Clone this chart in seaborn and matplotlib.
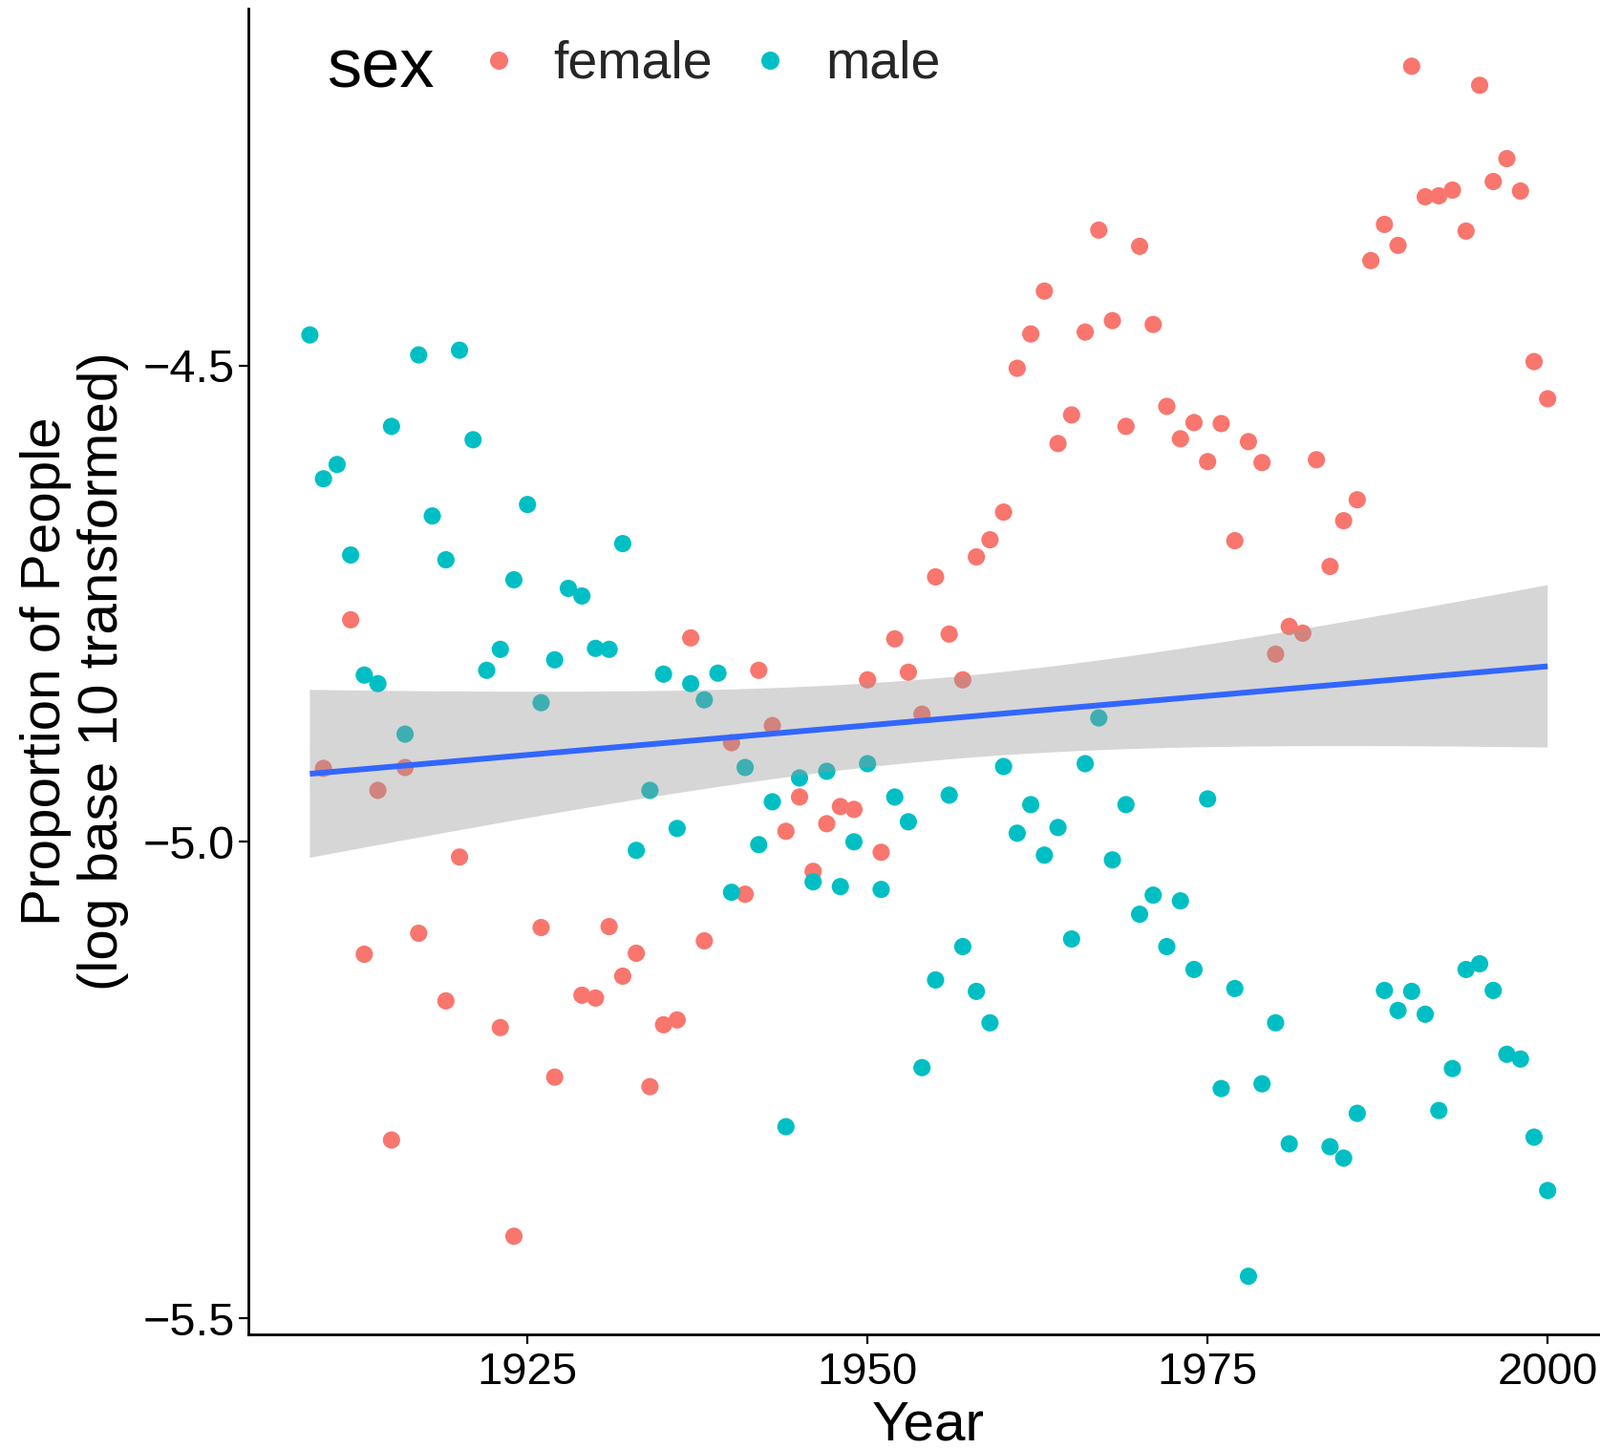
import numpy as np
import pandas as pd
import matplotlib
matplotlib.use("Agg")
import matplotlib.pyplot as plt
import seaborn as sns

# ---------------- data ----------------
female_years = [1910, 1912, 1913, 1914, 1915, 1916, 1917, 1919, 1920, 1923,
                1924, 1926, 1927, 1929, 1930, 1931, 1932, 1933, 1934, 1935,
                1936, 1937, 1938, 1940, 1941, 1942, 1943, 1944, 1945, 1946,
                1947, 1948, 1949, 1950, 1951, 1952, 1953, 1954, 1955, 1956,
                1957, 1958, 1959, 1960, 1961, 1962, 1963, 1964, 1965, 1966,
                1967, 1968, 1969, 1970, 1971, 1972, 1973, 1974, 1975, 1976,
                1977, 1978, 1979, 1980, 1981, 1982, 1983, 1984, 1985, 1986,
                1987, 1988, 1989, 1990, 1991, 1992, 1993, 1994, 1995, 1996,
                1997, 1998, 1999, 2000]
female_values = [-4.923, -4.767, -5.118, -4.946, -5.313, -4.922, -5.096, -5.167, -5.016, -5.195,
                 -5.414, -5.090, -5.247, -5.161, -5.164, -5.089, -5.141, -5.117, -5.257, -5.192,
                 -5.187, -4.786, -5.104, -4.896, -5.055, -4.820, -4.878, -4.989, -4.953, -5.031,
                 -4.981, -4.963, -4.966, -4.830, -5.011, -4.787, -4.822, -4.866, -4.722, -4.782,
                 -4.830, -4.701, -4.683, -4.654, -4.503, -4.467, -4.422, -4.582, -4.552, -4.465,
                 -4.358, -4.453, -4.564, -4.375, -4.457, -4.543, -4.577, -4.560, -4.601, -4.561,
                 -4.684, -4.580, -4.602, -4.803, -4.774, -4.781, -4.599, -4.711, -4.663, -4.641,
                 -4.390, -4.352, -4.374, -4.186, -4.323, -4.322, -4.316, -4.359, -4.206, -4.307,
                 -4.283, -4.317, -4.496, -4.535]

male_years = [1909, 1910, 1911, 1912, 1913, 1914, 1915, 1916, 1917, 1918,
              1919, 1920, 1921, 1922, 1923, 1924, 1925, 1926, 1927, 1928,
              1929, 1930, 1931, 1932, 1933, 1934, 1935, 1936, 1937, 1938,
              1939, 1940, 1941, 1942, 1943, 1944, 1945, 1946, 1947, 1948,
              1949, 1950, 1951, 1952, 1953, 1954, 1955, 1956, 1957, 1958,
              1959, 1960, 1961, 1962, 1963, 1964, 1965, 1966, 1967, 1968,
              1969, 1970, 1971, 1972, 1973, 1974, 1975, 1976, 1977, 1978,
              1979, 1980, 1981, 1984, 1985, 1986, 1988, 1989, 1990, 1991,
              1992, 1993, 1994, 1995, 1996, 1997, 1998, 1999, 2000]
male_values = [-4.468, -4.619, -4.604, -4.699, -4.825, -4.834, -4.564, -4.887, -4.489, -4.658,
               -4.704, -4.484, -4.578, -4.820, -4.798, -4.725, -4.646, -4.854, -4.809, -4.734,
               -4.742, -4.797, -4.798, -4.687, -5.009, -4.946, -4.824, -4.986, -4.834, -4.851,
               -4.823, -5.053, -4.922, -5.003, -4.958, -5.299, -4.933, -5.042, -4.926, -5.047,
               -5.000, -4.918, -5.050, -4.953, -4.979, -5.237, -5.145, -4.951, -5.110, -5.157,
               -5.190, -4.921, -4.991, -4.961, -5.014, -4.985, -5.102, -4.918, -4.870, -5.019,
               -4.961, -5.076, -5.056, -5.110, -5.062, -5.134, -4.955, -5.259, -5.154, -5.456,
               -5.254, -5.190, -5.317, -5.320, -5.332, -5.285, -5.156, -5.177, -5.157, -5.181,
               -5.282, -5.238, -5.134, -5.128, -5.156, -5.223, -5.228, -5.310, -5.366]

sex_levels = ["female", "male"]
sex_colors = ["#F8766D", "#00BFC4"]
x_ticks = [1925, 1950, 1975, 2000]
y_ticks = [-5.5, -5.0, -4.5]
y_tick_labels = ["\u22125.5", "\u22125.0", "\u22124.5"]

df = pd.DataFrame({
    "year": female_years + male_years,
    "prop": female_values + male_values,
    "sex": ["female"] * len(female_years) + ["male"] * len(male_years),
})

# ---------------- figure ----------------
sns.set_theme(style="white")
plt.rcParams["font.family"] = ["Liberation Sans", "DejaVu Sans"]

W, H = 1675, 1517
fig = plt.figure(figsize=(W / 100, H / 100), dpi=100)
ax_left, ax_bottom = 259.6, 120.0
ax_right, ax_top = 1685.0, 1517 - 8.5
ax = fig.add_axes([ax_left / W, ax_bottom / H, (ax_right - ax_left) / W, (ax_top - ax_bottom) / H])

palette = dict(zip(sex_levels, sex_colors))
sns.scatterplot(data=df, x="year", y="prop", hue="sex", hue_order=sex_levels,
                palette=palette, s=170, linewidth=0, alpha=1, ax=ax, zorder=2)

# linear fit line (seaborn) + analytic 95% confidence ribbon like geom_smooth(method="lm")
sns.regplot(data=df, x="year", y="prop", scatter=False, ci=None,
            color="#3366FF", line_kws=dict(lw=4.3, solid_capstyle="butt", zorder=4), ax=ax)

x = df["year"].to_numpy(float)
y = df["prop"].to_numpy(float)
n = len(x)
b1, b0 = np.polyfit(x, y, 1)
resid = y - (b0 + b1 * x)
s_err = np.sqrt(np.sum(resid ** 2) / (n - 2))
grid = np.linspace(x.min(), x.max(), 100)
se = s_err * np.sqrt(1.0 / n + (grid - x.mean()) ** 2 / np.sum((x - x.mean()) ** 2))
t_crit = 1.974
fit = b0 + b1 * grid
ax.fill_between(grid, fit - t_crit * se, fit + t_crit * se,
                facecolor=(0.6, 0.6, 0.6), alpha=0.4, edgecolor="none", zorder=3)

ax.set_xlim(1904.45, 2004.55)
ax.set_ylim(-5.517, -4.125)
ax.set_xticks(x_ticks)
ax.set_xticklabels([str(t) for t in x_ticks])
ax.set_yticks(y_ticks)
ax.set_yticklabels(y_tick_labels)

for side in ["top", "right"]:
    ax.spines[side].set_visible(False)
for side in ["left", "bottom"]:
    ax.spines[side].set_color("black")
    ax.spines[side].set_linewidth(2.0)

ax.tick_params(axis="both", which="major", direction="out", length=7, width=1.6,
               color="black", labelsize=34, labelcolor="black", left=True, bottom=True)
ax.tick_params(axis="y", labelsize=35, pad=3)
ax.tick_params(axis="x", pad=6)

ax.set_xlabel("Year", fontsize=42, color="black")
ax.xaxis.set_label_coords(((972 - ax_left) / (ax_right - ax_left)), (9 - ax_bottom) / (ax_top - ax_bottom))
ax.xaxis.label.set_va("baseline")

ax.set_ylabel("Proportion of People\n(log base 10 transformed)", fontsize=42, color="black",
              linespacing=1.15)
ax.yaxis.set_label_coords((78 - ax_left) / (ax_right - ax_left), 0.5)
ax.yaxis.label.set_va("center")

# legend (inside panel, horizontal, title at left)
handles, labels = ax.get_legend_handles_labels()
if ax.get_legend() is not None:
    ax.get_legend().remove()
leg = fig.legend(handles, labels, loc="center left",
                 bbox_to_anchor=(494 / W, 1 - 68 / H), ncol=2, frameon=False,
                 fontsize=40, handlelength=1.0, handletextpad=0.54, columnspacing=0.58,
                 borderpad=0, borderaxespad=0, markerscale=1.05)
fig.text(342 / W, 1 - 91 / H, "sex", fontsize=52, color="black", va="baseline", ha="left")

fig.savefig("out.png", dpi=100)
